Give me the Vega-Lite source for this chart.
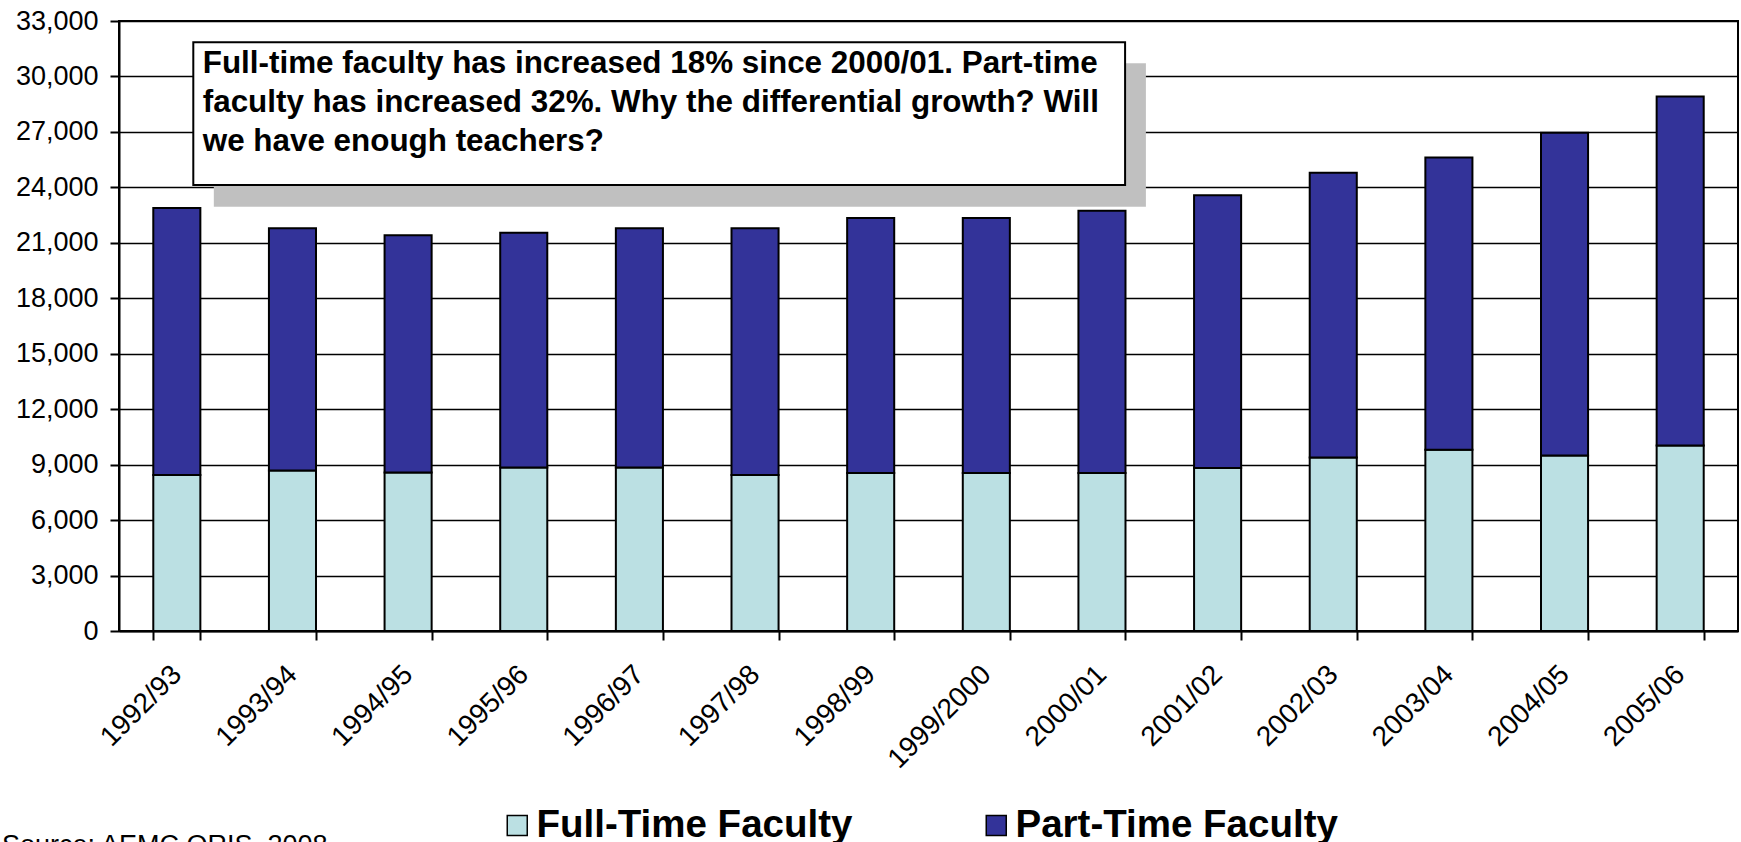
{
  "$schema": "https://vega.github.io/schema/vega-lite/v6.json",
  "autosize": {"type": "none"},
  "padding": {"left": 119, "top": 21, "right": 3, "bottom": 211},
  "width": 1619,
  "height": 610,
  "background": "white",
  "config": {
    "font": "Liberation Sans",
    "view": {"stroke": "black", "strokeWidth": 2},
    "axis": {"domainColor": "black", "domainWidth": 2, "tickColor": "black", "tickWidth": 2, "labelColor": "black", "labelFont": "Liberation Sans", "labelFontSize": 27, "title": null}
  },
  "data": {"values": [
    {"Year": "1992/93", "Type": "Full-Time Faculty", "Faculty": 8440},
    {"Year": "1992/93", "Type": "Part-Time Faculty", "Faculty": 14450},
    {"Year": "1993/94", "Type": "Full-Time Faculty", "Faculty": 8680},
    {"Year": "1993/94", "Type": "Part-Time Faculty", "Faculty": 13110},
    {"Year": "1994/95", "Type": "Full-Time Faculty", "Faculty": 8570},
    {"Year": "1994/95", "Type": "Part-Time Faculty", "Faculty": 12840},
    {"Year": "1995/96", "Type": "Full-Time Faculty", "Faculty": 8840},
    {"Year": "1995/96", "Type": "Part-Time Faculty", "Faculty": 12700},
    {"Year": "1996/97", "Type": "Full-Time Faculty", "Faculty": 8840},
    {"Year": "1996/97", "Type": "Part-Time Faculty", "Faculty": 12950},
    {"Year": "1997/98", "Type": "Full-Time Faculty", "Faculty": 8440},
    {"Year": "1997/98", "Type": "Part-Time Faculty", "Faculty": 13350},
    {"Year": "1998/99", "Type": "Full-Time Faculty", "Faculty": 8550},
    {"Year": "1998/99", "Type": "Part-Time Faculty", "Faculty": 13790},
    {"Year": "1999/2000", "Type": "Full-Time Faculty", "Faculty": 8550},
    {"Year": "1999/2000", "Type": "Part-Time Faculty", "Faculty": 13790},
    {"Year": "2000/01", "Type": "Full-Time Faculty", "Faculty": 8550},
    {"Year": "2000/01", "Type": "Part-Time Faculty", "Faculty": 14190},
    {"Year": "2001/02", "Type": "Full-Time Faculty", "Faculty": 8820},
    {"Year": "2001/02", "Type": "Part-Time Faculty", "Faculty": 14760},
    {"Year": "2002/03", "Type": "Full-Time Faculty", "Faculty": 9380},
    {"Year": "2002/03", "Type": "Part-Time Faculty", "Faculty": 15410},
    {"Year": "2003/04", "Type": "Full-Time Faculty", "Faculty": 9810},
    {"Year": "2003/04", "Type": "Part-Time Faculty", "Faculty": 15810},
    {"Year": "2004/05", "Type": "Full-Time Faculty", "Faculty": 9500},
    {"Year": "2004/05", "Type": "Part-Time Faculty", "Faculty": 17450},
    {"Year": "2005/06", "Type": "Full-Time Faculty", "Faculty": 10040},
    {"Year": "2005/06", "Type": "Part-Time Faculty", "Faculty": 18880}
  ]},
  "resolve": {"scale": {"x": "independent"}, "axis": {"x": "independent"}},
  "layer": [
    {
      "mark": {"type": "bar", "stroke": "black", "strokeWidth": 2},
      "encoding": {
        "x": {"field": "Year", "type": "nominal", "sort": null,
              "scale": {"paddingInner": 0.593, "paddingOuter": 0.2965},
              "axis": {"tickBand": "extent", "labelAngle": -45, "labelAlign": "right", "labelBaseline": "middle", "labelFontSize": 28, "tickSize": 9, "labelPadding": 30, "labelOffset": 0, "grid": false}},
        "y": {"field": "Faculty", "type": "quantitative", "aggregate": "sum", "stack": "zero",
              "scale": {"domain": [0, 33000], "nice": false},
              "axis": {"values": [0, 3000, 6000, 9000, 12000, 15000, 18000, 21000, 24000, 27000, 30000, 33000], "format": ",.0f", "tickSize": 9, "labelPadding": 12, "grid": true, "gridColor": "black", "gridWidth": 1.5, "gridOpacity": 1}},
        "color": {"field": "Type", "type": "nominal",
                  "scale": {"domain": ["Full-Time Faculty", "Part-Time Faculty"], "range": ["#BBE0E3", "#333399"]},
                  "legend": {"title": null, "orient": "none", "legendX": 379, "legendY": 785, "direction": "horizontal", "symbolType": "square", "symbolSize": 400, "symbolStrokeColor": "black", "symbolStrokeWidth": 1.5, "symbolOpacity": 1, "labelFontSize": 38.5, "labelFontWeight": "bold", "labelFont": "Liberation Sans", "labelColor": "black", "labelOffset": 0, "labelLimit": 600, "columnPadding": 124}},
        "order": {"field": "Type", "sort": "ascending"}
      }
    },
    {
      "data": {"values": [{"note": "shadow"}]},
      "mark": {"type": "rect", "fill": "#C0C0C0"},
      "encoding": {
        "x": {"datum": 0.82, "type": "quantitative", "scale": {"domain": [0, 14], "nice": false}, "axis": null},
        "x2": {"datum": 8.88},
        "y": {"datum": 30712, "type": "quantitative"},
        "y2": {"datum": 22954}
      }
    },
    {
      "data": {"values": [{"note": "box"}]},
      "mark": {"type": "rect", "fill": "white", "stroke": "black", "strokeWidth": 2},
      "encoding": {
        "x": {"datum": 0.6425, "type": "quantitative", "scale": {"domain": [0, 14], "nice": false}, "axis": null},
        "x2": {"datum": 8.70},
        "y": {"datum": 31848, "type": "quantitative"},
        "y2": {"datum": 24128}
      }
    },
    {
      "data": {"values": [{"note": "text"}]},
      "mark": {"type": "text", "align": "left", "baseline": "alphabetic", "font": "Liberation Sans", "fontWeight": "bold", "fontSize": 31.4, "lineHeight": 39, "color": "black"},
      "encoding": {
        "x": {"datum": 0.724, "type": "quantitative", "scale": {"domain": [0, 14], "nice": false}, "axis": null},
        "y": {"datum": 30170, "type": "quantitative"},
        "text": {"value": ["Full-time faculty has increased 18% since 2000/01. Part-time", "faculty has increased 32%. Why the differential growth? Will", "we have enough teachers?"]}
      }
    },
    {
      "data": {"values": [{"note": "source"}]},
      "mark": {"type": "text", "align": "left", "baseline": "alphabetic", "font": "Liberation Sans", "fontWeight": "normal", "fontSize": 27, "color": "black", "clip": false},
      "encoding": {
        "x": {"datum": -1.012, "type": "quantitative", "scale": {"domain": [0, 14], "nice": false}, "axis": null},
        "y": {"datum": -12080, "type": "quantitative"},
        "text": {"value": "Source: AEMC ORIS, 2008"}
      }
    }
  ]
}
